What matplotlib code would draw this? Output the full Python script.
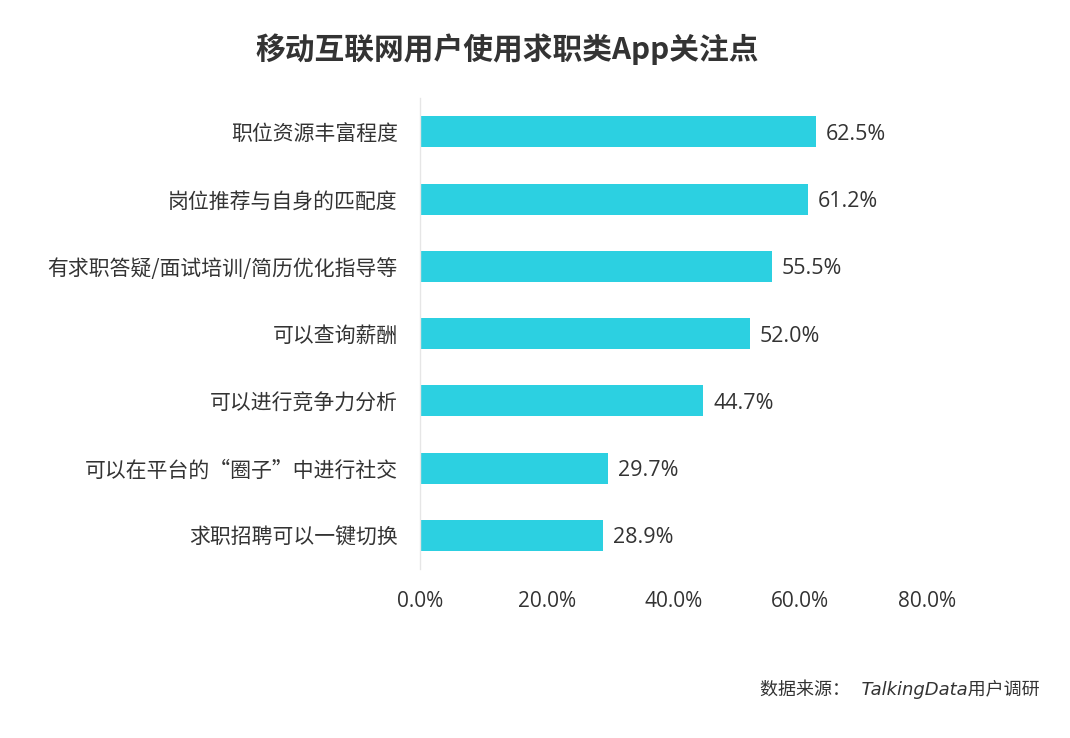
import matplotlib
matplotlib.use("Agg")
import matplotlib.pyplot as plt

plt.rcParams['font.family'] = ['Noto Sans CJK SC', 'DejaVu Sans']

title = "移动互联网用户使用求职类App关注点"
categories = [
    "职位资源丰富程度",
    "岗位推荐与自身的匹配度",
    "有求职答疑/面试培训/简历优化指导等",
    "可以查询薪酬",
    "可以进行竞争力分析",
    "可以在平台的“圈子”中进行社交",
    "求职招聘可以一键切换",
]
values = [62.5, 61.2, 55.5, 52.0, 44.7, 29.7, 28.9]
xticks = [0, 20, 40, 60, 80]
source = "数据来源：  TalkingData用户调研"

bar_color = "#2cd0e1"
text_color = "#333333"

fig = plt.figure(figsize=(10.70, 7.38), dpi=100)
fig.patch.set_facecolor("white")
ax = fig.add_axes([0.3925, 0.229, 0.4738, 0.638])

y = list(range(len(categories)))
ax.barh(y, values, height=0.46, color=bar_color)
ax.set_ylim(len(categories) - 0.5, -0.5)
ax.set_xlim(0, 80)

for yi, v in zip(y, values):
    ax.text(v + 1.6, yi, f"{v:.1f}%", va="center_baseline", ha="left",
            fontsize=15.5, color=text_color, family=['Open Sans', 'DejaVu Sans'])

ax.set_yticks(y)
ax.set_yticklabels(categories, fontsize=15, color=text_color)
ax.set_xticks(xticks)
ax.set_xticklabels([f"{t:.1f}%" for t in xticks], fontsize=15, color=text_color,
                   family=['Open Sans', 'DejaVu Sans'])
ax.tick_params(axis='y', length=0, pad=16)
ax.tick_params(axis='x', length=0, pad=16)

for s in ["top", "right", "bottom"]:
    ax.spines[s].set_visible(False)
ax.spines["left"].set_color("#e6e6e6")
ax.spines["left"].set_linewidth(1)

fig.text(0.474, 0.934, title, ha="center", va="center", fontsize=21.4,
         fontweight="bold", color=text_color)
fig.text(0.972, 0.066, source, ha="right", va="center", fontsize=13,
         style="italic", color=text_color, family=['DejaVu Sans', 'Noto Sans CJK SC'])

fig.savefig("out.png", dpi=100, facecolor="white")
